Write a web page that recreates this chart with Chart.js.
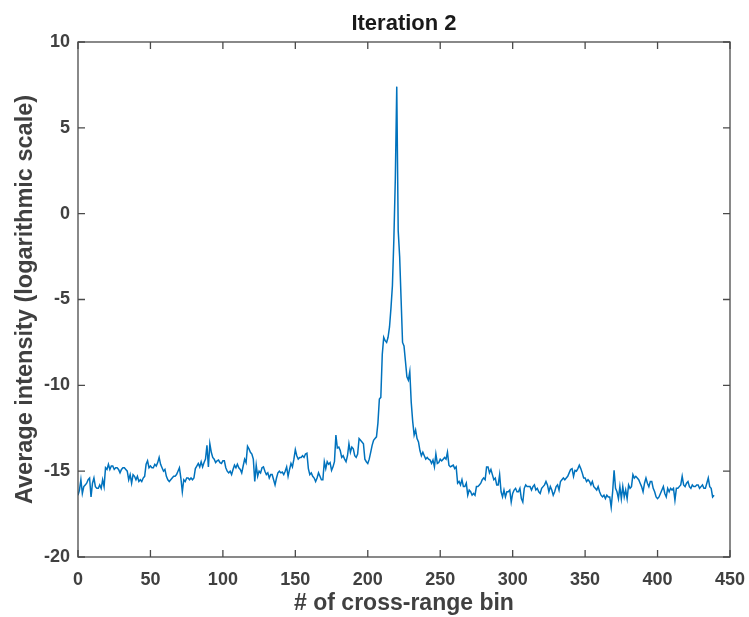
<!DOCTYPE html>
<html>
<head>
<meta charset="utf-8">
<script src="https://cdn.jsdelivr.net/npm/chart.js@4.4.1/dist/chart.umd.min.js"></script>
<style>
  html, body { margin: 0; padding: 0; background: #fff; }
  #wrap { width: 749px; height: 617px; }
</style>
</head>
<body>
<div id="wrap"><canvas id="chart" width="749" height="617"></canvas></div>
<script>
// Axis ticks
const xTicks = [0, 50, 100, 150, 200, 250, 300, 350, 400, 450];
const yTicks = [-20, -15, -10, -5, 0, 5, 10];

// Average intensity per cross-range bin (bins 0..439)
const intensity = [
  -16.4, -16.1, -15.5, -16.3, -15.9, -15.8, -15.7, -15.5, -15.4, -16.5,
  -15.7, -15.4, -15.9, -16.0, -16.0, -15.8, -16.0, -15.5, -15.9, -14.8,
  -14.9, -14.6, -14.9, -14.7, -14.7, -14.9, -14.8, -14.8, -14.9, -15.1,
  -14.9, -14.8, -14.8, -14.9, -15.0, -15.5, -15.2, -15.7, -15.2, -15.3,
  -15.5, -15.3, -15.6, -15.5, -15.6, -15.4, -15.3, -14.6, -14.4, -14.8,
  -14.7, -14.8, -14.8, -14.6, -14.7, -14.5, -14.2, -14.6, -14.8, -15.0,
  -14.9, -15.3, -15.5, -15.6, -15.5, -15.4, -15.3, -15.3, -15.2, -15.0,
  -14.8, -15.4, -16.2, -15.5, -15.6, -15.4, -15.4, -15.5, -15.4, -15.5,
  -15.4, -14.85, -14.7, -14.55, -14.75, -14.45, -14.75, -14.5, -14.3, -13.5,
  -14.75, -13.4, -13.9, -14.2, -14.3, -14.5, -14.4, -14.35, -14.5, -14.55,
  -14.4, -14.4, -14.8, -15.0, -15.1, -15.0, -15.2, -14.9, -14.65, -14.8,
  -14.6, -14.8, -14.9, -15.1, -14.7, -14.3, -14.5, -13.55, -13.7, -13.9,
  -14.0, -14.3, -15.6, -14.65, -15.3, -15.0, -15.1, -14.8, -14.75, -15.0,
  -15.2, -15.1, -15.4, -15.2, -15.2, -15.5, -15.8, -15.4, -15.1, -15.0,
  -15.1, -15.05, -15.2, -15.0, -14.75, -15.3, -14.9, -14.55, -14.75, -14.3,
  -13.75, -14.1, -14.3, -14.2, -14.2, -14.1, -14.2, -14.0, -13.95, -14.85,
  -15.2, -15.1, -15.3, -15.4, -15.6, -15.4, -15.1, -15.3, -15.5, -15.5,
  -14.45, -14.85, -14.45, -14.6, -14.5, -14.95, -14.75, -14.45, -12.9, -13.65,
  -13.6, -13.8, -14.2, -14.1, -14.3, -14.45, -14.1, -13.4, -13.9, -13.6,
  -13.7, -14.1, -14.2, -14.0, -13.1, -13.2, -13.3, -13.4, -14.3, -14.45,
  -14.55, -14.3, -13.9, -13.5, -13.2, -13.1, -13.0, -12.2, -10.8, -10.7,
  -8.2, -7.2, -7.4, -7.5, -7.2, -6.6, -5.5, -4.2, -1.5, 2.0,
  7.4, -1.0, -2.5, -5.0, -7.5, -7.7, -8.6, -9.5, -9.7, -9.2,
  -11.0, -12.1, -12.9, -12.6, -13.1, -13.3, -13.8, -14.1, -13.9, -14.1,
  -14.3, -14.2, -14.3, -14.35, -14.55, -14.35, -14.75, -14.0, -14.55, -14.5,
  -14.3, -14.4, -14.3, -14.2, -14.3, -13.9, -14.65, -14.75, -14.7, -14.65,
  -14.85, -14.75, -15.7, -15.6, -15.8, -15.5, -15.9, -15.9, -15.7, -16.4,
  -16.1, -16.2, -16.4, -16.3, -16.4, -15.9, -15.9, -15.8, -15.7, -15.5,
  -15.4, -15.5, -14.75, -14.75, -15.1, -14.9, -15.2, -15.5, -15.4, -15.8,
  -15.8, -15.2, -16.2, -16.5, -16.1, -16.5, -16.2, -16.2, -16.1, -16.8,
  -16.3, -16.1, -16.0, -16.2, -16.2, -16.0, -16.6, -16.8, -16.0, -15.8,
  -15.9, -15.9, -15.9, -16.1, -15.9, -15.8, -16.1, -16.0, -16.2, -16.3,
  -16.0, -15.9, -15.8, -15.6, -15.8, -16.2, -15.9, -16.1, -16.4, -16.2,
  -15.9, -15.8, -16.1, -15.6, -15.5, -15.4, -15.5, -15.4, -15.3, -15.1,
  -14.9, -14.85, -15.3, -14.95, -15.0, -14.85, -14.65, -14.85, -15.1, -15.4,
  -15.4, -15.6, -15.5, -15.6, -15.8, -15.6, -15.9, -16.0, -16.1, -15.9,
  -16.2, -16.4, -16.5, -16.4, -16.6, -16.4, -16.5, -16.5, -17.1, -16.2,
  -14.95, -16.0, -16.2, -16.6, -15.9, -16.6, -15.9, -16.5, -16.1, -16.6,
  -15.8, -16.0, -15.9, -15.2, -15.4, -15.3, -15.4, -15.5, -15.7, -15.9,
  -16.2, -15.7, -15.4, -15.7, -15.9, -15.6, -15.6, -16.0, -16.2, -16.5,
  -16.6, -16.5, -16.3, -16.1, -15.9, -16.3, -16.5, -16.0, -16.2, -16.0,
  -16.1, -16.0, -16.7, -16.0, -16.0, -15.9, -15.8, -15.3, -15.8, -15.9,
  -15.7, -15.6, -15.9, -16.0, -15.8, -15.9, -15.9, -15.8, -15.8, -16.0,
  -15.9, -15.8, -16.0, -16.0, -15.7, -15.4, -15.9, -16.0, -16.5, -16.4
];
const bins = intensity.map((v, i) => i);

const FONT = "'Liberation Sans', Arial, Helvetica, sans-serif";
const AXIS_COLOR = '#4a4a4a';
const TEXT_COLOR = '#404040';

// MATLAB style box with inward ticks on all four sides
const boxPlugin = {
  id: 'boxPlugin',
  afterDraw(chart) {
    const { ctx, chartArea: a, scales } = chart;
    const len = 7;
    ctx.save();
    ctx.strokeStyle = AXIS_COLOR;
    ctx.lineWidth = 1.3;
    ctx.strokeRect(a.left, a.top, a.right - a.left, a.bottom - a.top);
    ctx.beginPath();
    scales.x.ticks.forEach(t => {
      const px = scales.x.getPixelForValue(t.value);
      ctx.moveTo(px, a.bottom); ctx.lineTo(px, a.bottom - len);
      ctx.moveTo(px, a.top); ctx.lineTo(px, a.top + len);
    });
    scales.y.ticks.forEach(t => {
      const py = scales.y.getPixelForValue(t.value);
      ctx.moveTo(a.left, py); ctx.lineTo(a.left + len, py);
      ctx.moveTo(a.right, py); ctx.lineTo(a.right - len, py);
    });
    ctx.stroke();
    ctx.restore();
  }
};

new Chart(document.getElementById('chart'), {
  type: 'line',
  data: {
    datasets: [{
      data: bins.map((b, i) => ({ x: b, y: intensity[i] })),
      borderColor: '#0072BD',
      borderWidth: 1.5,
      pointRadius: 0,
      tension: 0,
      fill: false
    }]
  },
  options: {
    responsive: false,
    animation: false,
    layout: { padding: { left: 0, right: 19, top: 0, bottom: 0 } },
    plugins: {
      legend: { display: false },
      tooltip: { enabled: false },
      title: {
        display: true,
        fullSize: false,
        text: 'Iteration 2',
        color: '#1a1a1a',
        font: { family: FONT, size: 22, weight: 'bold' },
        padding: { top: 11, bottom: 4.6 }
      }
    },
    scales: {
      x: {
        type: 'linear',
        min: 0,
        max: 450,
        afterBuildTicks: s => { s.ticks = xTicks.map(v => ({ value: v })); },
        afterFit: s => { s.height = 60; s.paddingLeft = 0; s.paddingRight = 0; },
        grid: { display: false, drawTicks: false },
        border: { display: false },
        ticks: {
          color: TEXT_COLOR,
          font: { family: FONT, size: 18, weight: 'bold' },
          padding: 12,
          maxRotation: 0
        },
        title: {
          display: true,
          text: '# of cross-range bin',
          color: TEXT_COLOR,
          font: { family: FONT, size: 23, weight: 'bold' },
          padding: { top: 0, bottom: 0 }
        }
      },
      y: {
        type: 'linear',
        min: -20,
        max: 10,
        afterBuildTicks: s => { s.ticks = yTicks.map(v => ({ value: v })); },
        afterFit: s => { s.width = 78; s.paddingTop = 0; s.paddingBottom = 0; },
        grid: { display: false, drawTicks: false },
        border: { display: false },
        ticks: {
          color: TEXT_COLOR,
          font: { family: FONT, size: 18, weight: 'bold' },
          padding: 8
        },
        title: {
          display: true,
          text: 'Average intensity (logarithmic scale)',
          color: TEXT_COLOR,
          font: { family: FONT, size: 23.5, weight: 'bold' },
          padding: { top: 11, bottom: 0 }
        }
      }
    }
  },
  plugins: [boxPlugin]
});
</script>
</body>
</html>
